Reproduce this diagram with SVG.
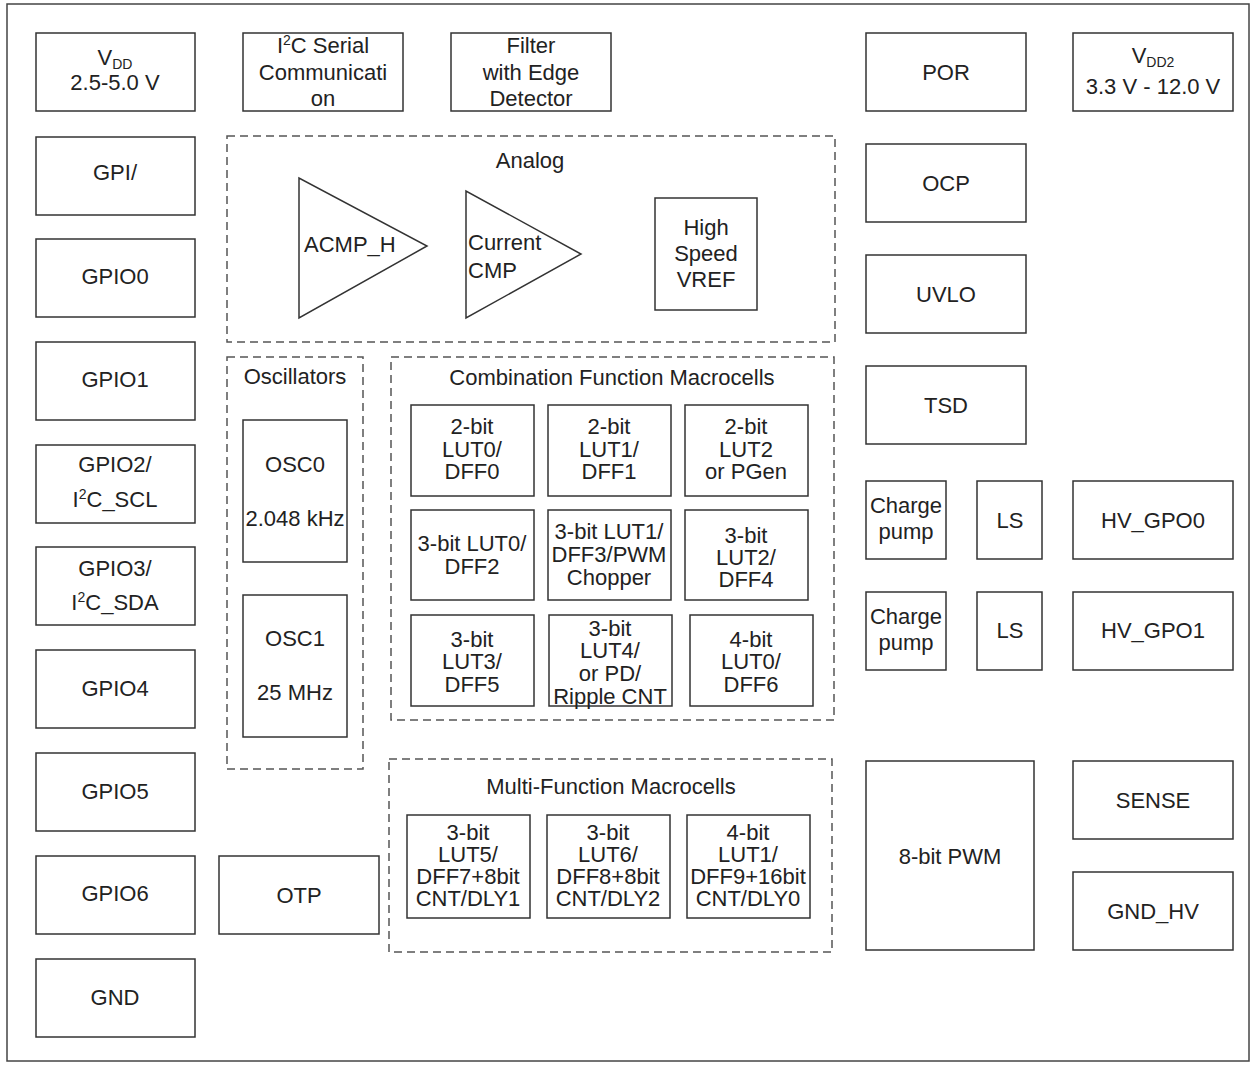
<svg xmlns="http://www.w3.org/2000/svg" width="1256" height="1068" viewBox="0 0 1256 1068">
<style>
.b{fill:#fff;stroke:#333;stroke-width:1.5}
.d{fill:none;stroke:#555;stroke-width:1.5;stroke-dasharray:8 5}
text{font-family:"Liberation Sans",Arial,sans-serif;font-size:22px;fill:#222;text-anchor:middle}
.s{font-size:14px}
</style>
<rect x="0" y="0" width="1256" height="1068" fill="#fff"/>
<rect x="7" y="4" width="1242" height="1057" fill="none" stroke="#444" stroke-width="1.5"/>
<g id="connectors"/>
<g id="vdd"><rect class="b" x="36" y="33" width="159" height="78"/><text x="115" y="65">V<tspan class="s" dy="4">DD</tspan></text><text x="115" y="90">2.5-5.0 V</text></g>
<g id="gpi"><rect class="b" x="36" y="137" width="159" height="78"/><text x="115" y="180">GPI/</text></g>
<g id="gpio0"><rect class="b" x="36" y="239" width="159" height="78"/><text x="115" y="284">GPIO0</text></g>
<g id="gpio1"><rect class="b" x="36" y="342" width="159" height="78"/><text x="115" y="387">GPIO1</text></g>
<g id="gpio2"><rect class="b" x="36" y="445" width="159" height="78"/><text x="115" y="472">GPIO2/</text><text x="115" y="507">I<tspan class="s" dy="-8">2</tspan><tspan dy="8">C_SCL</tspan></text></g>
<g id="gpio3"><rect class="b" x="36" y="547" width="159" height="78"/><text x="115" y="576">GPIO3/</text><text x="115" y="610">I<tspan class="s" dy="-8">2</tspan><tspan dy="8">C_SDA</tspan></text></g>
<g id="gpio4"><rect class="b" x="36" y="650" width="159" height="78"/><text x="115" y="696">GPIO4</text></g>
<g id="gpio5"><rect class="b" x="36" y="753" width="159" height="78"/><text x="115" y="799">GPIO5</text></g>
<g id="gpio6"><rect class="b" x="36" y="856" width="159" height="78"/><text x="115" y="901">GPIO6</text></g>
<g id="gnd"><rect class="b" x="36" y="959" width="159" height="78"/><text x="115" y="1005">GND</text></g>
<g id="i2c"><rect class="b" x="243" y="33" width="160" height="78"/><text x="323" y="53">I<tspan class="s" dy="-8">2</tspan><tspan dy="8">C Serial</tspan></text><text x="323" y="80">Communicati</text><text x="323" y="106">on</text></g>
<g id="filter"><rect class="b" x="451" y="33" width="160" height="78"/><text x="531" y="53">Filter</text><text x="531" y="80">with Edge</text><text x="531" y="106">Detector</text></g>
<g id="analog"><rect class="d" x="227" y="136" width="608" height="206"/><text x="530" y="168">Analog</text>
<polygon class="b" points="299,178 299,318 427,246"/><text x="304" y="252" style="text-anchor:start">ACMP_H</text>
<polygon class="b" points="466,191 466,318 581,254"/><text x="468" y="250" style="text-anchor:start">Current</text><text x="468" y="278" style="text-anchor:start">CMP</text>
<rect class="b" x="655" y="198" width="102" height="112"/><text x="706" y="235">High</text><text x="706" y="261">Speed</text><text x="706" y="287">VREF</text></g>
<g id="osc"><rect class="d" x="227" y="357" width="136" height="412"/><text x="295" y="384">Oscillators</text>
<rect class="b" x="243" y="420" width="104" height="142"/><text x="295" y="472">OSC0</text><text x="295" y="526">2.048 kHz</text>
<rect class="b" x="243" y="595" width="104" height="142"/><text x="295" y="646">OSC1</text><text x="295" y="700">25 MHz</text></g>
<g id="otp"><rect class="b" x="219" y="856" width="160" height="78"/><text x="299" y="903">OTP</text></g>
<g id="comb"><rect class="d" x="391" y="357" width="443" height="363"/><text x="612" y="385">Combination Function Macrocells</text>
<rect class="b" x="411" y="405" width="123" height="91"/><text x="472" y="434">2-bit</text><text x="472" y="457">LUT0/</text><text x="472" y="479">DFF0</text>
<rect class="b" x="548" y="405" width="123" height="91"/><text x="609" y="434">2-bit</text><text x="609" y="457">LUT1/</text><text x="609" y="479">DFF1</text>
<rect class="b" x="685" y="405" width="123" height="91"/><text x="746" y="434">2-bit</text><text x="746" y="457">LUT2</text><text x="746" y="479">or PGen</text>
<rect class="b" x="411" y="510" width="123" height="90"/><text x="472" y="551">3-bit LUT0/</text><text x="472" y="574">DFF2</text>
<rect class="b" x="548" y="510" width="123" height="90"/><text x="609" y="539">3-bit LUT1/</text><text x="609" y="562">DFF3/PWM</text><text x="609" y="585">Chopper</text>
<rect class="b" x="685" y="510" width="123" height="90"/><text x="746" y="543">3-bit</text><text x="746" y="565">LUT2/</text><text x="746" y="587">DFF4</text>
<rect class="b" x="411" y="615" width="123" height="91"/><text x="472" y="647">3-bit</text><text x="472" y="669">LUT3/</text><text x="472" y="692">DFF5</text>
<rect class="b" x="549" y="615" width="123" height="91"/><text x="610" y="636">3-bit</text><text x="610" y="658">LUT4/</text><text x="610" y="681">or PD/</text><text x="610" y="704">Ripple CNT</text>
<rect class="b" x="690" y="615" width="123" height="91"/><text x="751" y="647">4-bit</text><text x="751" y="669">LUT0/</text><text x="751" y="692">DFF6</text></g>
<g id="multi"><rect class="d" x="389" y="759" width="443" height="193"/><text x="611" y="794">Multi-Function Macrocells</text>
<rect class="b" x="407" y="815" width="123" height="103"/><text x="468" y="840">3-bit</text><text x="468" y="862">LUT5/</text><text x="468" y="884">DFF7+8bit</text><text x="468" y="906">CNT/DLY1</text>
<rect class="b" x="547" y="815" width="123" height="103"/><text x="608" y="840">3-bit</text><text x="608" y="862">LUT6/</text><text x="608" y="884">DFF8+8bit</text><text x="608" y="906">CNT/DLY2</text>
<rect class="b" x="687" y="815" width="123" height="103"/><text x="748" y="840">4-bit</text><text x="748" y="862">LUT1/</text><text x="748" y="884">DFF9+16bit</text><text x="748" y="906">CNT/DLY0</text></g>
<g id="por"><rect class="b" x="866" y="33" width="160" height="78"/><text x="946" y="80">POR</text></g>
<g id="vdd2"><rect class="b" x="1073" y="33" width="160" height="78"/><text x="1153" y="63">V<tspan class="s" dy="4">DD2</tspan></text><text x="1153" y="94">3.3 V - 12.0 V</text></g>
<g id="ocp"><rect class="b" x="866" y="144" width="160" height="78"/><text x="946" y="191">OCP</text></g>
<g id="uvlo"><rect class="b" x="866" y="255" width="160" height="78"/><text x="946" y="302">UVLO</text></g>
<g id="tsd"><rect class="b" x="866" y="366" width="160" height="78"/><text x="946" y="413">TSD</text></g>
<g id="cp0"><rect class="b" x="866" y="481" width="80" height="78"/><text x="906" y="513">Charge</text><text x="906" y="539">pump</text></g>
<g id="ls0"><rect class="b" x="977" y="481" width="65" height="78"/><text x="1010" y="528">LS</text></g>
<g id="hv0"><rect class="b" x="1073" y="481" width="160" height="78"/><text x="1153" y="528">HV_GPO0</text></g>
<g id="cp1"><rect class="b" x="866" y="592" width="80" height="78"/><text x="906" y="624">Charge</text><text x="906" y="650">pump</text></g>
<g id="ls1"><rect class="b" x="977" y="592" width="65" height="78"/><text x="1010" y="638">LS</text></g>
<g id="hv1"><rect class="b" x="1073" y="592" width="160" height="78"/><text x="1153" y="638">HV_GPO1</text></g>
<g id="pwm"><rect class="b" x="866" y="761" width="168" height="189"/><text x="950" y="864">8-bit PWM</text></g>
<g id="sense"><rect class="b" x="1073" y="761" width="160" height="78"/><text x="1153" y="808">SENSE</text></g>
<g id="gndhv"><rect class="b" x="1073" y="872" width="160" height="78"/><text x="1153" y="919">GND_HV</text></g>
</svg>
